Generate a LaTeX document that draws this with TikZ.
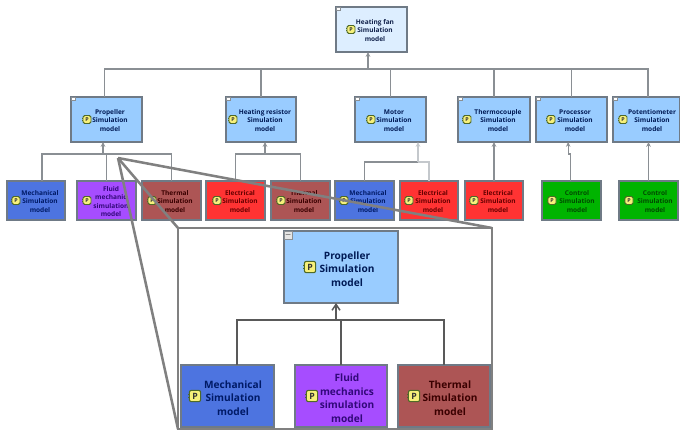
\documentclass[tikz,border=0pt]{standalone}
\usepackage{fontspec}
\setmainfont{Open Sans}
\usetikzlibrary{arrows.meta}
\definecolor{topfill}{HTML}{DDEEFF}\definecolor{toptext}{HTML}{10204A}
\definecolor{bluefill}{HTML}{99CCFF}\definecolor{bluetext}{HTML}{001A55}
\definecolor{mechfill}{HTML}{4D74E0}\definecolor{mechtext}{HTML}{001A66}
\definecolor{purpfill}{HTML}{A64DFF}\definecolor{purptext}{HTML}{32087A}
\definecolor{thermfill}{HTML}{AD5555}\definecolor{thermtext}{HTML}{3A0000}
\definecolor{redfill}{HTML}{FF3333}\definecolor{redtext}{HTML}{660000}
\definecolor{greenfill}{HTML}{00B400}\definecolor{greentext}{HTML}{004A00}
\definecolor{linegray}{HTML}{8A8F94}
\definecolor{bordergray}{HTML}{6F7A86}
\definecolor{calloutgray}{HTML}{808080}
\definecolor{paleline}{HTML}{C4C8CC}
\definecolor{iconfill}{HTML}{F6F07A}
\definecolor{iconline}{HTML}{4F6A28}
\tikzset{
  boxshape/.style={draw=bordergray,line width=1pt,inner sep=0pt,outer sep=0pt},
  small txt/.style={font=\fontsize{4.9}{6.3}\selectfont\bfseries,align=center,inner sep=0pt,yshift=-0.75pt},
  big txt/.style={font=\fontsize{7.6}{10.1}\selectfont\bfseries,align=center,inner sep=0pt,yshift=-1.5pt},
  small ico/.style={minimum size=6pt,font=\fontsize{4}{4}\selectfont\bfseries,rounded corners=1.2pt,line width=.7pt},
  big ico/.style={minimum size=8.5pt,font=\fontsize{6.5}{6.5}\selectfont\bfseries,rounded corners=1.5pt,line width=.8pt},
  txtsize/.style={small txt},
  icosize/.style={small ico},
  icon/.style={draw=iconline,fill=iconfill,text=black!80,inner sep=0pt,outer sep=0pt},
  tab/.style={draw=linegray,fill=white,line width=.3pt,inner sep=0pt,minimum width=3pt,minimum height=2pt,anchor=north west},
  bigtab/.style={draw=linegray,fill=white!90!black,line width=.3pt,inner sep=0pt,minimum width=6pt,minimum height=6pt,anchor=north west,font=\fontsize{5}{5}\selectfont},
  conn/.style={draw=linegray,line width=.8pt},
  paleconn/.style={draw=paleline,line width=.8pt},
  bigconn/.style={draw=black!65,line width=1.1pt},
  head/.style={-{Stealth[length=3.6pt,width=3.4pt]}},
  bighead/.style={-{Straight Barb[length=4.5pt,width=6pt]}},
  callout/.style={draw=calloutgray,line width=1.9pt,line join=miter}
}
% name, colour key, x1, y1, x2, y2, icon x, text x, text
\newcommand{\comp}[9]{%
  \node[boxshape,fill=#2fill,minimum width={(#5-#3)*0.75pt},minimum height={(#6-#4)*0.75pt}]
    (#1) at ({(#3+#5)/2},{(#4+#6)/2}) {};
  \node[icon,icosize] (#1-icon) at (#7,{(#4+#6)/2}) {P};
  \fill[iconline] (#1-icon.west) ++(-0.9pt,1.2pt) rectangle ++(1pt,-0.8pt);
  \fill[iconline] (#1-icon.west) ++(-0.9pt,-0.4pt) rectangle ++(1pt,-0.8pt);
  \node[txtsize,text=#2text] (#1-text) at (#8,{(#4+#6)/2}) {#9};
}
\begin{document}
\begin{tikzpicture}[x=0.75pt,y=-0.75pt]
\useasboundingbox (0,0) rectangle (680,434);
% upper tiers
\comp{fan}{top}{336}{7}{407}{52}{351}{375}{Heating fan\\Simulation\\model}
\comp{prop}{blue}{71}{97}{142}{142}{87}{110}{Propeller\\Simulation\\model}
\comp{heat}{blue}{226}{97}{296}{142}{233}{265}{Heating resistor\\Simulation\\model}
\comp{motor}{blue}{355}{97}{426}{142}{371}{394}{Motor\\Simulation\\model}
\comp{couple}{blue}{458}{97}{530}{142}{467}{498}{Thermocouple\\Simulation\\model}
\comp{proc}{blue}{536}{97}{607}{142}{551}{575}{Processor\\Simulation\\model}
\comp{pot}{blue}{613}{97}{680}{142}{623}{652}{Potentiometer\\Simulation\\model}
\foreach \n in {fan,prop,heat,motor,couple,proc,pot}{\node[tab] at (\n.north west) {};}
% lower tier
\comp{mecha}{mech}{7}{181}{65}{220}{16}{40}{Mechanical\\Simulation\\model}
\comp{fluid}{purp}{77}{181}{136}{220}{87}{111}{Fluid\\mechanic\\simulation\\model}
\comp{therma}{therm}{142}{181}{201}{220}{152}{175}{Thermal\\Simulation\\model}
\comp{eleca}{red}{206}{181}{265}{220}{217}{240}{Electrical\\Simulation\\model}
\comp{thermb}{therm}{271}{181}{330}{220}{281}{304}{Thermal\\Simulation\\model}
\comp{mechb}{mech}{335}{181}{394}{220}{344}{368}{Mechanical\\Simulation\\model}
\comp{elecb}{red}{400}{181}{458}{220}{409}{433}{Electrical\\Simulation\\model}
\comp{elecc}{red}{465}{181}{523}{220}{474}{498}{Electrical\\Simulation\\model}
\comp{ctrla}{green}{542}{181}{601}{220}{552}{577}{Control\\Simulation\\model}
\comp{ctrlb}{green}{619}{181}{678}{220}{629}{655}{Control\\Simulation\\model}
% junctions
\coordinate (jtop) at (368,69);
\coordinate (jprop) at (103,154);
\coordinate (jheat) at (265,154);
\coordinate (jmotor) at (418,162);
\coordinate (jproc) at (570,154);
% top bus
\draw[conn] ([xshift=-1.5pt]prop.north) |- (jtop);
\draw[conn] (heat.north) |- (jtop);
\draw[conn] (motor.north) |- (jtop);
\draw[conn] (couple.north) |- (jtop);
\draw[conn] (proc.north) |- (jtop);
\draw[conn] ([xshift=1.1pt]pot.north) |- (jtop);
\draw[conn,head] (jtop) -- (fan.south -| jtop);
% propeller group
\draw[conn] ([xshift=4.5pt]mecha.north) |- (jprop);
\draw[conn] (fluid.north) |- (jprop);
\draw[conn] (therma.north) |- (jprop);
\draw[conn,head] (jprop) -- (prop.south -| jprop);
% heater group
\draw[conn] (eleca.north) |- (jheat);
\draw[conn] (thermb.north) |- (jheat);
\draw[conn,head] (jheat) -- (heat.south -| jheat);
% motor group
\draw[conn] (mechb.north) |- (jmotor);
\draw[paleconn] (elecb.north) |- (jmotor);
\draw[paleconn,head] (jmotor) -- (motor.south -| jmotor);
% single children
\draw[conn,head] (elecc.north) -- (couple.south);
\draw[conn,head] ([xshift=-1pt]ctrla.north) -- ([xshift=-1pt]ctrla.north |- jproc) -- ++(-1.5pt,0) -- ([xshift=-2.5pt]proc.south);
\draw[conn,head] (ctrlb.north) -- (ctrlb.north |- pot.south);
% enlargement panel and its leader lines
\coordinate (focus) at (118,158);
\node[callout,fill=white,inner sep=0pt,outer sep=0pt,minimum width={314*0.75pt},minimum height={201*0.75pt}] (panel) at (335,328.5) {};
\draw[callout] (focus) -- (panel.north west);
\draw[callout] (focus) -- (panel.north east);
\draw[callout] (focus) -- (panel.south west);
% enlargement content
\tikzset{txtsize/.style={big txt},icosize/.style={big ico}}
\comp{Bprop}{blue}{284}{231}{398}{303}{310}{347}{Propeller\\Simulation\\model}
\node[bigtab] at (Bprop.north west) {$-$};
\comp{Bmech}{mech}{181}{365}{274}{427}{195}{233}{Mechanical\\Simulation\\model}
\comp{Bfluid}{purp}{295}{365}{387}{427}{312}{347}{Fluid\\mechanics\\simulation\\model}
\comp{Btherm}{therm}{398}{365}{490}{427}{414}{450}{Thermal\\Simulation\\model}
\coordinate (jbig) at (336,320);
\draw[bigconn] ([xshift=7.1pt]Bmech.north) |- (jbig);
\draw[bigconn] (Bfluid.north) |- (jbig);
\draw[bigconn] (Btherm.north) |- (jbig);
\draw[bigconn,bighead] (jbig) -- (Bprop.south -| jbig);
\end{tikzpicture}
\end{document}
